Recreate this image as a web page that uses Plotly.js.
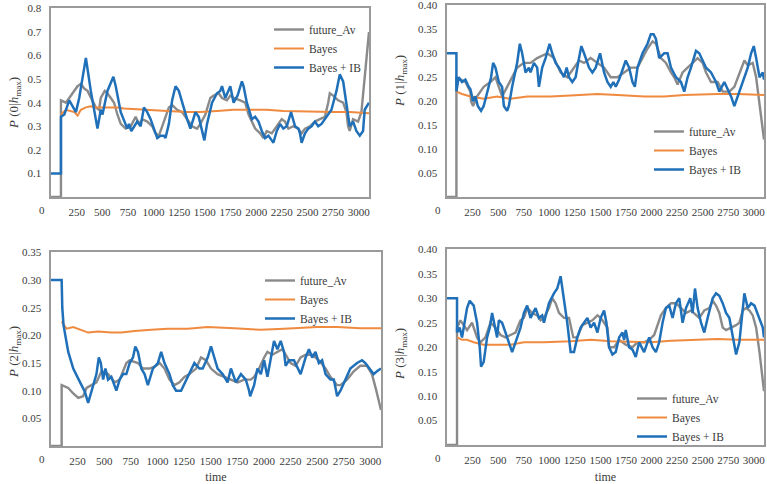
<!DOCTYPE html>
<html>
<head>
<meta charset="utf-8">
<script src="https://cdn.plot.ly/plotly-3.0.1.min.js"></script>
<style>html,body{margin:0;padding:0;background:#fff;}#chart{width:767px;height:484px;}</style>
</head>
<body>
<div id="chart"></div>
<script>
// ---- data: [time, probability] ----
const seriesNames = ["future_Av", "Bayes", "Bayes + IB"];
const xTicks = [250, 500, 750, 1000, 1250, 1500, 1750, 2000, 2250, 2500, 2750, 3000];
const yTicks0 = [0.1, 0.2, 0.3, 0.4, 0.5, 0.6, 0.7, 0.8];
const yTicks1 = [0.05, 0.10, 0.15, 0.20, 0.25, 0.30, 0.35, 0.40];
const yTicks2 = [0.05, 0.10, 0.15, 0.20, 0.25, 0.30, 0.35];
const yTicks3 = [0.05, 0.10, 0.15, 0.20, 0.25, 0.30, 0.35, 0.40];

const p0Future = [[0,0],[97,0],[97,0.41],[146,0.40],[210,0.44],[259,0.47],[291,0.48],[324,0.46],[356,0.45],[388,0.42],[437,0.38],[469,0.37],[485,0.42],[524,0.45],[550,0.44],[583,0.42],[615,0.40],[647,0.35],[680,0.31],[728,0.29],[777,0.30],[825,0.34],[858,0.31],[890,0.33],[938,0.32],[987,0.30],[1019,0.27],[1052,0.26],[1084,0.30],[1116,0.34],[1149,0.38],[1181,0.39],[1230,0.37],[1278,0.36],[1327,0.33],[1375,0.30],[1424,0.29],[1456,0.31],[1505,0.35],[1553,0.42],[1586,0.43],[1634,0.44],[1667,0.42],[1715,0.41],[1748,0.43],[1780,0.42],[1845,0.41],[1893,0.40],[1926,0.35],[1958,0.32],[1990,0.29],[2039,0.27],[2071,0.25],[2103,0.28],[2152,0.27],[2201,0.30],[2249,0.33],[2281,0.32],[2314,0.29],[2362,0.30],[2411,0.29],[2443,0.27],[2476,0.29],[2524,0.30],[2573,0.32],[2621,0.33],[2670,0.34],[2702,0.40],[2718,0.44],[2751,0.43],[2799,0.41],[2848,0.40],[2880,0.36],[2896,0.30],[2912,0.28],[2945,0.33],[2993,0.32],[3026,0.36],[3058,0.50],[3100,0.70]];
const p0Bayes = [[97,0.35],[146,0.37],[227,0.36],[259,0.345],[291,0.37],[340,0.38],[388,0.385],[437,0.38],[583,0.38],[647,0.38],[712,0.375],[874,0.37],[1133,0.365],[1327,0.36],[1456,0.36],[1618,0.365],[1780,0.37],[1974,0.37],[2103,0.37],[2265,0.365],[2589,0.36],[2751,0.36],[2912,0.36],[3100,0.355]];
const p0BayesIB = [[0,0.1],[97,0.1],[97,0.34],[130,0.35],[178,0.41],[243,0.36],[275,0.42],[340,0.59],[388,0.45],[421,0.37],[453,0.29],[485,0.37],[502,0.35],[550,0.45],[608,0.51],[631,0.47],[680,0.36],[744,0.29],[760,0.31],[783,0.28],[809,0.30],[841,0.32],[874,0.30],[906,0.38],[938,0.36],[971,0.33],[1003,0.29],[1036,0.25],[1068,0.26],[1100,0.26],[1116,0.25],[1149,0.31],[1181,0.41],[1214,0.47],[1246,0.45],[1278,0.40],[1327,0.33],[1359,0.29],[1408,0.36],[1440,0.34],[1472,0.28],[1495,0.24],[1521,0.31],[1570,0.40],[1618,0.44],[1650,0.45],[1667,0.47],[1699,0.42],[1748,0.47],[1780,0.40],[1819,0.43],[1861,0.49],[1877,0.47],[1909,0.40],[1958,0.33],[1990,0.34],[2023,0.32],[2055,0.28],[2087,0.25],[2120,0.26],[2152,0.24],[2168,0.23],[2201,0.28],[2233,0.31],[2265,0.29],[2298,0.30],[2340,0.36],[2379,0.30],[2411,0.29],[2427,0.27],[2443,0.23],[2476,0.27],[2508,0.29],[2540,0.30],[2573,0.32],[2605,0.30],[2637,0.31],[2670,0.33],[2702,0.35],[2734,0.37],[2783,0.45],[2815,0.52],[2848,0.49],[2880,0.40],[2912,0.30],[2945,0.32],[2977,0.28],[3010,0.26],[3042,0.28],[3058,0.37],[3074,0.38],[3100,0.40]];

const p1Future = [[0,0],[92,0],[92,0.25],[180,0.24],[229,0.22],[235,0.20],[255,0.19],[294,0.21],[359,0.23],[425,0.24],[474,0.25],[507,0.23],[539,0.21],[588,0.23],[637,0.25],[686,0.27],[752,0.28],[817,0.28],[882,0.29],[980,0.30],[1046,0.29],[1111,0.26],[1176,0.25],[1242,0.27],[1291,0.285],[1340,0.28],[1405,0.29],[1471,0.28],[1536,0.27],[1601,0.25],[1667,0.25],[1732,0.26],[1797,0.27],[1863,0.27],[1912,0.29],[1961,0.31],[2010,0.325],[2043,0.32],[2092,0.29],[2141,0.28],[2190,0.26],[2222,0.25],[2255,0.235],[2304,0.26],[2353,0.27],[2402,0.28],[2451,0.29],[2500,0.28],[2533,0.26],[2582,0.24],[2647,0.24],[2696,0.22],[2761,0.22],[2810,0.23],[2843,0.25],[2876,0.27],[2908,0.285],[2941,0.275],[2990,0.28],[3023,0.25],[3065,0.18],[3100,0.12]];
const p1Bayes = [[92,0.22],[147,0.215],[229,0.21],[359,0.205],[490,0.21],[621,0.205],[784,0.21],[1013,0.21],[1209,0.212],[1471,0.215],[1667,0.213],[1928,0.21],[2124,0.21],[2320,0.213],[2647,0.215],[2843,0.215],[3100,0.213]];
const p1BayesIB = [[0,0.30],[92,0.30],[92,0.22],[114,0.25],[147,0.24],[180,0.245],[212,0.23],[229,0.225],[255,0.20],[278,0.21],[301,0.19],[333,0.18],[359,0.19],[392,0.22],[408,0.23],[431,0.25],[451,0.28],[474,0.27],[507,0.24],[539,0.23],[556,0.19],[588,0.18],[605,0.19],[637,0.23],[686,0.28],[712,0.32],[735,0.30],[768,0.26],[801,0.27],[817,0.26],[850,0.28],[882,0.27],[899,0.23],[931,0.27],[964,0.29],[1003,0.32],[1029,0.30],[1062,0.28],[1095,0.27],[1144,0.25],[1170,0.27],[1193,0.25],[1225,0.24],[1258,0.25],[1291,0.29],[1314,0.315],[1340,0.30],[1389,0.27],[1422,0.26],[1454,0.27],[1497,0.30],[1536,0.26],[1569,0.24],[1601,0.23],[1627,0.24],[1650,0.23],[1683,0.245],[1748,0.285],[1781,0.27],[1814,0.24],[1837,0.23],[1863,0.27],[1912,0.30],[1961,0.32],[1993,0.34],[2020,0.34],[2043,0.33],[2075,0.29],[2124,0.30],[2157,0.30],[2190,0.27],[2239,0.25],[2288,0.24],[2320,0.22],[2353,0.25],[2386,0.27],[2435,0.305],[2467,0.30],[2533,0.27],[2582,0.26],[2631,0.24],[2663,0.22],[2712,0.24],[2778,0.21],[2810,0.19],[2843,0.21],[2892,0.24],[2941,0.27],[2974,0.30],[3000,0.315],[3023,0.29],[3056,0.25],[3088,0.26],[3100,0.245]];

const p2Future = [[0,0],[100,0],[100,0.11],[162,0.105],[209,0.095],[256,0.087],[302,0.09],[334,0.105],[380,0.11],[427,0.115],[474,0.135],[536,0.13],[599,0.115],[645,0.12],[677,0.135],[708,0.15],[739,0.155],[817,0.15],[864,0.14],[926,0.14],[988,0.145],[1020,0.15],[1066,0.14],[1113,0.12],[1160,0.11],[1207,0.115],[1253,0.125],[1300,0.13],[1363,0.14],[1409,0.16],[1456,0.155],[1503,0.14],[1565,0.13],[1627,0.125],[1690,0.12],[1752,0.115],[1815,0.12],[1877,0.12],[1908,0.125],[1955,0.14],[2002,0.16],[2033,0.17],[2080,0.165],[2127,0.17],[2173,0.175],[2204,0.165],[2251,0.15],[2298,0.145],[2345,0.16],[2392,0.165],[2454,0.165],[2516,0.155],[2579,0.14],[2625,0.125],[2688,0.11],[2719,0.11],[2781,0.12],[2844,0.135],[2906,0.145],[2968,0.145],[3015,0.13],[3056,0.10],[3100,0.065]];
const p2Bayes = [[100,0.225],[115,0.22],[146,0.212],[209,0.215],[287,0.21],[349,0.205],[443,0.207],[567,0.205],[661,0.205],[786,0.208],[941,0.21],[1097,0.212],[1284,0.212],[1472,0.215],[1721,0.213],[1971,0.21],[2189,0.212],[2501,0.215],[2688,0.215],[2906,0.213],[3100,0.213]];
const p2BayesIB = [[0,0.30],[100,0.30],[106,0.25],[118,0.218],[162,0.17],[209,0.14],[271,0.116],[318,0.098],[349,0.078],[380,0.10],[405,0.115],[427,0.13],[449,0.16],[468,0.15],[490,0.12],[511,0.14],[536,0.12],[567,0.125],[614,0.10],[645,0.12],[677,0.13],[708,0.13],[739,0.15],[770,0.16],[792,0.18],[817,0.17],[848,0.14],[879,0.13],[910,0.11],[957,0.14],[1004,0.15],[1035,0.17],[1066,0.15],[1113,0.13],[1144,0.11],[1175,0.10],[1222,0.10],[1269,0.12],[1316,0.14],[1347,0.15],[1394,0.14],[1425,0.14],[1472,0.16],[1503,0.18],[1534,0.16],[1565,0.14],[1612,0.13],[1659,0.115],[1690,0.14],[1737,0.115],[1784,0.13],[1830,0.12],[1861,0.10],[1871,0.09],[1908,0.11],[1939,0.14],[1971,0.13],[2002,0.155],[2033,0.125],[2064,0.16],[2080,0.17],[2095,0.19],[2127,0.175],[2158,0.19],[2189,0.17],[2204,0.145],[2236,0.155],[2282,0.155],[2345,0.13],[2392,0.16],[2423,0.175],[2454,0.16],[2485,0.17],[2516,0.15],[2547,0.155],[2579,0.13],[2625,0.12],[2657,0.12],[2688,0.09],[2719,0.10],[2766,0.12],[2812,0.14],[2875,0.15],[2922,0.155],[2953,0.15],[3031,0.13],[3062,0.135],[3100,0.14]];

const p3Future = [[0,0],[98,0],[98,0.24],[131,0.255],[163,0.245],[196,0.235],[245,0.25],[294,0.22],[326,0.21],[376,0.22],[425,0.25],[474,0.24],[523,0.225],[572,0.22],[621,0.225],[670,0.23],[719,0.255],[752,0.26],[784,0.28],[833,0.27],[882,0.265],[915,0.255],[948,0.26],[997,0.28],[1029,0.30],[1062,0.29],[1095,0.27],[1144,0.26],[1193,0.26],[1235,0.22],[1274,0.22],[1323,0.245],[1373,0.25],[1422,0.255],[1471,0.265],[1503,0.26],[1536,0.25],[1569,0.24],[1585,0.20],[1634,0.20],[1683,0.215],[1748,0.205],[1814,0.20],[1863,0.21],[1928,0.21],[1977,0.215],[2026,0.225],[2059,0.245],[2092,0.265],[2141,0.28],[2190,0.29],[2239,0.29],[2288,0.28],[2337,0.27],[2386,0.275],[2435,0.265],[2467,0.26],[2516,0.275],[2565,0.28],[2598,0.295],[2631,0.285],[2663,0.27],[2696,0.24],[2729,0.235],[2778,0.24],[2827,0.245],[2859,0.25],[2892,0.275],[2925,0.28],[2958,0.275],[2990,0.265],[3023,0.24],[3056,0.19],[3088,0.14],[3100,0.11]];
const p3Bayes = [[98,0.22],[147,0.215],[196,0.215],[261,0.21],[359,0.205],[490,0.205],[621,0.205],[752,0.21],[948,0.21],[1209,0.212],[1405,0.215],[1601,0.212],[1863,0.21],[1993,0.21],[2190,0.213],[2516,0.215],[2647,0.217],[2843,0.215],[3100,0.215]];
const p3BayesIB = [[0,0.30],[98,0.30],[98,0.23],[124,0.24],[147,0.22],[196,0.28],[222,0.295],[261,0.285],[294,0.25],[320,0.20],[333,0.16],[359,0.17],[392,0.22],[418,0.24],[441,0.27],[474,0.24],[490,0.22],[507,0.255],[539,0.25],[572,0.23],[605,0.21],[637,0.19],[670,0.21],[719,0.24],[752,0.27],[784,0.285],[817,0.26],[866,0.28],[899,0.26],[931,0.265],[948,0.25],[997,0.29],[1046,0.31],[1078,0.32],[1111,0.345],[1144,0.30],[1176,0.25],[1209,0.19],[1242,0.19],[1274,0.22],[1307,0.24],[1340,0.25],[1373,0.26],[1405,0.24],[1438,0.25],[1471,0.23],[1503,0.26],[1536,0.275],[1559,0.25],[1585,0.20],[1618,0.185],[1650,0.19],[1683,0.22],[1716,0.23],[1732,0.215],[1748,0.235],[1781,0.20],[1814,0.195],[1846,0.18],[1879,0.21],[1928,0.19],[1977,0.22],[2010,0.20],[2043,0.19],[2075,0.21],[2108,0.25],[2141,0.28],[2173,0.285],[2206,0.26],[2239,0.29],[2271,0.30],[2304,0.25],[2337,0.28],[2379,0.30],[2402,0.27],[2425,0.32],[2451,0.28],[2484,0.25],[2516,0.23],[2549,0.26],[2598,0.30],[2631,0.31],[2663,0.305],[2696,0.29],[2729,0.27],[2761,0.26],[2794,0.22],[2827,0.185],[2859,0.21],[2876,0.24],[2908,0.31],[2941,0.28],[2974,0.29],[3007,0.285],[3056,0.26],[3088,0.24],[3100,0.22]];

// ---- styling ----
const FONT = "'Liberation Serif', 'Times New Roman', serif";
const TXT = "#3a3a3a";
const COLORS = ["#8a8a8a", "#ef8a3f", "#1f70b8"];
const WIDTHS = [2.4, 2.0, 2.5];

const panels = [
  {data:[p0Future,p0Bayes,p0BayesIB], yTicks:yTicks0, yMax:0.8, dec:1, label:"0",
   xd:[51/767, 369/767], yd:[1-197/484, 1-8/484], legend:{x:269/767, y:1-15/484}, title:{x:14, y:103}, time:false},
  {data:[p1Future,p1Bayes,p1BayesIB], yTicks:yTicks1, yMax:0.40, dec:2, label:"1",
   xd:[447/767, 764/767], yd:[1-197/484, 1-5/484], legend:{x:649/767, y:1-117/484}, title:{x:400, y:81}, time:false},
  {data:[p2Future,p2Bayes,p2BayesIB], yTicks:yTicks2, yMax:0.35, dec:2, label:"2",
   xd:[51/767, 381/767], yd:[1-446/484, 1-252/484], legend:{x:260/767, y:1-266/484}, title:{x:14, y:352}, time:true},
  {data:[p3Future,p3Bayes,p3BayesIB], yTicks:yTicks3, yMax:0.40, dec:2, label:"3",
   xd:[447/767, 764/767], yd:[1-445/484, 1-249/484], legend:{x:632/767, y:1-384/484}, title:{x:400, y:354}, time:true}
];

const traces = [];
const layout = {
  width: 767, height: 484,
  margin: {l:0, r:0, t:0, b:0},
  paper_bgcolor: "#ffffff", plot_bgcolor: "#ffffff",
  font: {family: FONT, size: 11, color: TXT},
  annotations: []
};

panels.forEach((p, i) => {
  const n = i === 0 ? "" : String(i + 1);
  const xa = "x" + n, ya = "y" + n;
  const legName = "legend" + n;
  p.data.forEach((series, k) => {
    traces.push({
      type: "scatter", mode: "lines",
      x: series.map(d => d[0]), y: series.map(d => d[1]),
      name: seriesNames[k], xaxis: xa, yaxis: ya, legend: legName,
      line: {color: COLORS[k], width: WIDTHS[k]},
      hoverinfo: "skip"
    });
  });
  const xaxis = {
    domain: p.xd, anchor: ya, range: [0, 3100],
    showline: true, mirror: true, linecolor: "#9a9a9a", linewidth: 1.6,
    showgrid: false, zeroline: false, ticks: "",
    tickmode: "array", tickvals: xTicks, ticktext: xTicks.map(String),
    tickfont: {family: FONT, size: 11, color: TXT},
    ticklabelstandoff: 4, ticklabeloverflow: "allow",
    fixedrange: true
  };
  if (p.time) xaxis.title = {text: "time", font: {family: FONT, size: 12, color: TXT}, standoff: 8};
  layout["xaxis" + n] = xaxis;
  layout["yaxis" + n] = {
    domain: p.yd, anchor: xa, range: [0, p.yMax * 1.002],
    showline: true, mirror: true, linecolor: "#9a9a9a", linewidth: 1.6,
    showgrid: false, zeroline: false, ticks: "",
    tickmode: "array", tickvals: p.yTicks, ticktext: p.yTicks.map(v => v.toFixed(p.dec)),
    tickfont: {family: FONT, size: 11, color: TXT},
    ticklabelstandoff: 6, ticklabeloverflow: "allow",
    fixedrange: true
  };
  layout[legName] = {
    x: p.legend.x, y: p.legend.y, xanchor: "left", yanchor: "top",
    xref: "paper", yref: "paper",
    bgcolor: "rgba(0,0,0,0)", borderwidth: 0,
    font: {family: FONT, size: 11.5, color: TXT},
    itemwidth: 30, tracegroupgap: 0
  };
  // the "0" label of the time axis sits slightly left of the axis corner
  layout.annotations.push({
    xref: xa, yref: ya, x: 0, y: 0, text: "0", showarrow: false,
    xshift: -9, yshift: -13, xanchor: "center", yanchor: "middle",
    font: {family: FONT, size: 11, color: TXT}
  });
  // y-axis title
  layout.annotations.push({
    xref: "paper", yref: "paper", x: p.title.x / 767, y: 1 - p.title.y / 484,
    text: "<i>P</i> (" + p.label + "|<i>h</i><sub>max</sub>)", showarrow: false,
    textangle: -90, xanchor: "center", yanchor: "middle",
    font: {family: FONT, size: 13, color: TXT}
  });
});

Plotly.newPlot("chart", traces, layout, {staticPlot: true, displayModeBar: false});
</script>
</body>
</html>
